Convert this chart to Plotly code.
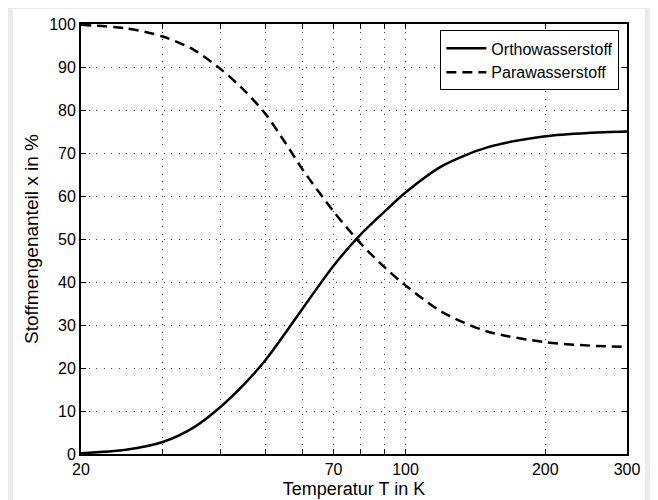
import math
import plotly.graph_objects as go

# Data
temperature_K = [20, 25, 30, 35, 40, 45, 50, 55, 60, 70, 80, 90, 100, 120, 150, 200, 250, 300]
ortho_pct = [0.2, 1.0, 2.8, 6.2, 11.0, 16.3, 21.9, 28.0, 33.8, 43.8, 51.0, 56.3, 60.8, 67.0, 71.3, 73.9, 74.7, 75.0]
para_pct = [99.8, 99.0, 97.1, 94.0, 89.5, 84.5, 79.0, 72.5, 66.2, 56.4, 49.0, 43.5, 39.2, 33.0, 28.5, 26.0, 25.2, 24.9]

x_tickvals = [20, 30, 40, 50, 60, 70, 80, 90, 100, 200, 300]
x_ticktext = ["20", "", "", "", "", "70", "", "", "100", "200", "300"]
y_tickvals = [0, 10, 20, 30, 40, 50, 60, 70, 80, 90, 100]

FONT = "Liberation Sans, Arial, Helvetica, sans-serif"

fig = go.Figure()
fig.add_trace(go.Scatter(
    x=temperature_K, y=ortho_pct, mode="lines", name="Orthowasserstoff",
    line=dict(color="black", width=2.5, shape="spline", smoothing=0.8),
))
fig.add_trace(go.Scatter(
    x=temperature_K, y=para_pct, mode="lines", name="Parawasserstoff",
    line=dict(color="black", width=2.5, dash="10px,6px", shape="spline", smoothing=0.8),
))

# white frame around the plot, on grey page background
fig.add_shape(type="rect", xref="paper", yref="paper",
              x0=-0.1245, x1=1.033, y0=-0.11, y1=1.035,
              fillcolor="white", line=dict(width=0), layer="below")

axis_common = dict(
    showline=True, linecolor="black", linewidth=1.8, mirror="allticks",
    ticks="inside", ticklen=5, tickwidth=1, tickcolor="black",
    showgrid=True, gridcolor="#444444", gridwidth=1, griddash="1px,6.5px",
    zeroline=False, tickfont=dict(size=16, color="black", family=FONT),
    automargin=False,
)

fig.update_xaxes(
    type="log", range=[math.log10(20), math.log10(300)],
    tickvals=x_tickvals, ticktext=x_ticktext,
    title=dict(text="Temperatur T in K", font=dict(size=18, color="black", family=FONT), standoff=5),
    **axis_common,
)
fig.update_yaxes(
    range=[0, 100], tickvals=y_tickvals,
    title=dict(text="Stoffmengenanteil x in %", font=dict(size=19, color="black", family=FONT), standoff=6),
    **axis_common,
)

fig.update_layout(
    width=650, height=492,
    margin=dict(l=73, r=31, t=16, b=46),
    paper_bgcolor="#ebebeb", plot_bgcolor="white",
    font=dict(family=FONT, color="black", size=16),
    showlegend=True,
    legend=dict(
        x=0.986, y=0.985, xanchor="right", yanchor="top",
        bgcolor="white", bordercolor="black", borderwidth=1,
        font=dict(size=16, color="black", family=FONT),
        tracegroupgap=0, itemwidth=40,
    ),
)

fig.write_html("out.html")
